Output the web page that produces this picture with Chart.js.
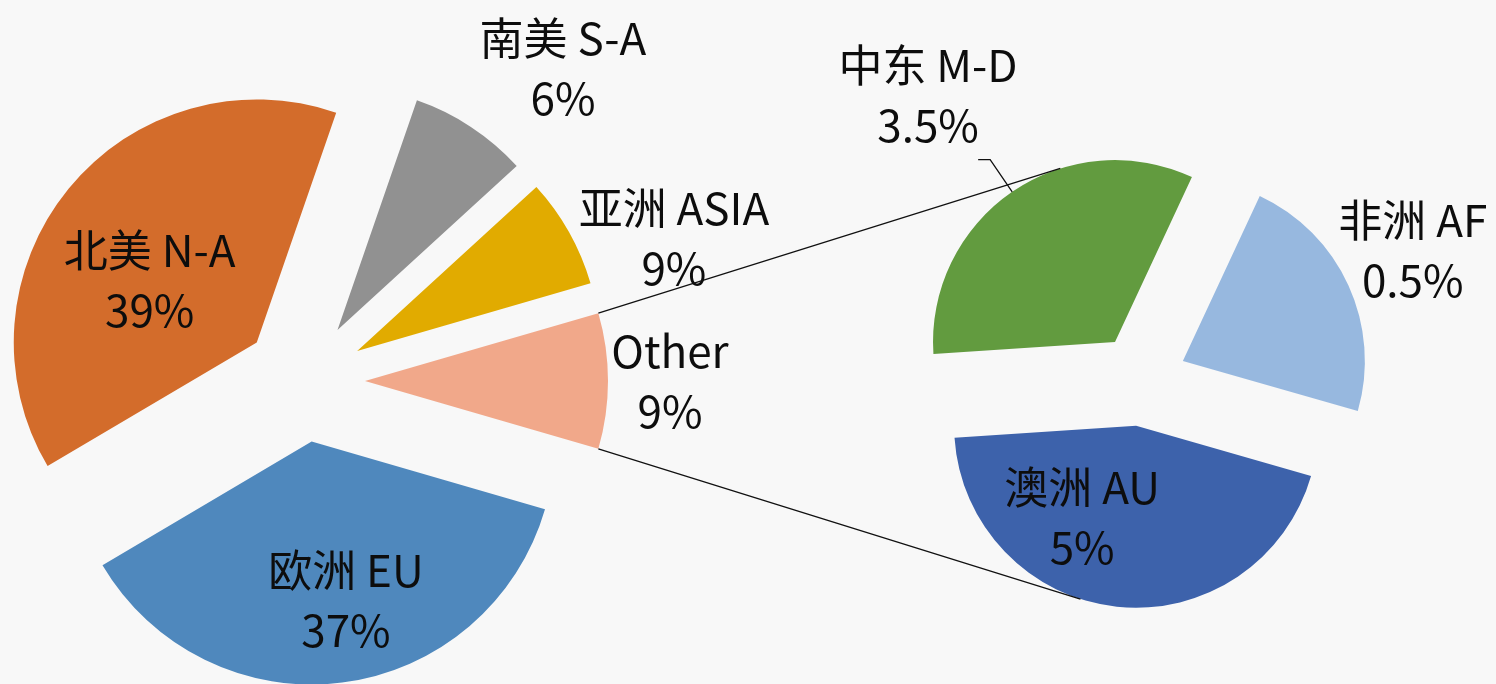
<!DOCTYPE html>
<html lang="zh">
<head>
  <meta charset="UTF-8" />
  <title>Pie of pie</title>
  <script src="https://cdn.jsdelivr.net/npm/chart.js"></script>
  <style>
    body { margin: 0; background: #f8f8f8; }
    .wrap { position: relative; width: 1496px; height: 684px; }
    .wrap canvas { position: absolute; left: 0; top: 0; }
  </style>
</head>
<body>

<div class="wrap">
  <canvas id="mainPie" width="1496" height="684"></canvas>
  <canvas id="otherPie" width="1496" height="684"></canvas>
</div>

<script>
  // left pie, in drawing order (clockwise from the "Other" slice)
  const mainNames = ['Other', '欧洲 EU', '北美 N-A', '南美 S-A', '亚洲 ASIA'];
  const mainPercents = ['9%', '37%', '39%', '6%', '9%'];
  const mainSliceShare = [9, 37, 38.8, 7.9, 7.3];
  const mainColors = ['#F1A88A', '#4F88BD', '#D36C2B', '#919191', '#E1AB00'];

  // right pie: breakdown of "Other"
  const otherNames = ['澳洲 AU', '中东 M-D', '非洲 AF'];
  const otherPercents = ['5%', '3.5%', '0.5%'];
  const otherSliceShare = [44.5, 33, 22.5];
  const otherColors = ['#3D62AB', '#629B3F', '#97B8DF'];

  // label placement: [radius factor, angle nudge in degrees]
  const mainLabelPos = [[1.255, 0], [0.667, -5], [0.51, -9], [1.423, 7.4], [1.383, 9.8]];
  const otherLabelPos = [[0.586, 24.3], [1.703, -2.7], [1.403, -1.3]];

  const rad = d => d * Math.PI / 180;
  const textColor = '#0d0d0d';
  const labelFont = '44px "Noto Sans CJK SC", "Noto Sans", sans-serif';

  function explodePlugin(dist) {
    return {
      id: 'explode',
      afterDatasetsUpdate(chart) {
        chart.getDatasetMeta(0).data.forEach(arc => {
          const mid = (arc.startAngle + arc.endAngle) / 2;
          arc.x += Math.cos(mid) * dist;
          arc.y += Math.sin(mid) * dist;
        });
      }
    };
  }

  function labelPlugin(lines, pos) {
    return {
      id: 'sliceLabels',
      afterDatasetsDraw(chart) {
        const ctx = chart.ctx;
        ctx.save();
        ctx.font = labelFont;
        ctx.fillStyle = textColor;
        ctx.textAlign = 'center';
        ctx.textBaseline = 'middle';
        chart.getDatasetMeta(0).data.forEach((arc, i) => {
          const mid = (arc.startAngle + arc.endAngle) / 2 + rad(pos[i][1]);
          const r = arc.outerRadius * pos[i][0];
          const x = arc.x + Math.cos(mid) * r;
          const y = arc.y + Math.sin(mid) * r;
          ctx.fillText(lines[i][0], x, y - 30);
          ctx.fillText(lines[i][1], x, y + 30);
        });
        ctx.restore();
      }
    };
  }

  const mainChart = new Chart(document.getElementById('mainPie'), {
    type: 'pie',
    data: {
      labels: mainNames,
      datasets: [{
        data: mainSliceShare,
        backgroundColor: mainColors,
        borderWidth: 0,
        radius: 243,
        clip: false
      }]
    },
    options: {
      responsive: false,
      animation: false,
      events: [],
      rotation: 73.8,
      layout: { padding: { left: 0, right: 888, top: 78, bottom: 0 } },
      plugins: { legend: { display: false }, tooltip: { enabled: false } }
    },
    plugins: [
      explodePlugin(61),
      labelPlugin(mainNames.map((n, i) => [n, mainPercents[i]]), mainLabelPos)
    ]
  });

  const connectorPlugin = {
    id: 'connectors',
    afterDraw(chart) {
      const ctx = chart.ctx;
      const otherArc = mainChart.getDatasetMeta(0).data[0];
      const arcs = chart.getDatasetMeta(0).data;
      const au = arcs[0], md = arcs[1];
      const pt = (arc, ang, r) => [arc.x + Math.cos(ang) * r, arc.y + Math.sin(ang) * r];

      ctx.save();
      ctx.strokeStyle = '#111';
      ctx.lineWidth = 1.3;

      const a = pt(otherArc, otherArc.startAngle, otherArc.outerRadius);
      const b = pt(md, rad(252.5), md.outerRadius);
      const c = pt(otherArc, otherArc.endAngle, otherArc.outerRadius);
      const d = pt(au, rad(107.8), au.outerRadius);
      ctx.beginPath();
      ctx.moveTo(a[0], a[1]); ctx.lineTo(b[0], b[1]);
      ctx.moveTo(c[0], c[1]); ctx.lineTo(d[0], d[1]);
      ctx.stroke();

      // leader line for the middle east label
      const mid = (md.startAngle + md.endAngle) / 2;
      const p = pt(md, mid, md.outerRadius);
      const e = pt(md, mid, md.outerRadius + 39);
      ctx.beginPath();
      ctx.moveTo(p[0], p[1]);
      ctx.lineTo(e[0], e[1]);
      ctx.lineTo(e[0] - 12, e[1]);
      ctx.stroke();
      ctx.restore();
    }
  };

  new Chart(document.getElementById('otherPie'), {
    type: 'pie',
    data: {
      labels: otherNames,
      datasets: [{
        data: otherSliceShare,
        backgroundColor: otherColors,
        borderWidth: 0,
        radius: 182,
        clip: false
      }]
    },
    options: {
      responsive: false,
      animation: false,
      events: [],
      rotation: 106,
      layout: { padding: { left: 786, right: 0, top: 76, bottom: 0 } },
      plugins: { legend: { display: false }, tooltip: { enabled: false } }
    },
    plugins: [
      explodePlugin(46),
      labelPlugin(otherNames.map((n, i) => [n, otherPercents[i]]), otherLabelPos),
      connectorPlugin
    ]
  });
</script>

</body>
</html>
